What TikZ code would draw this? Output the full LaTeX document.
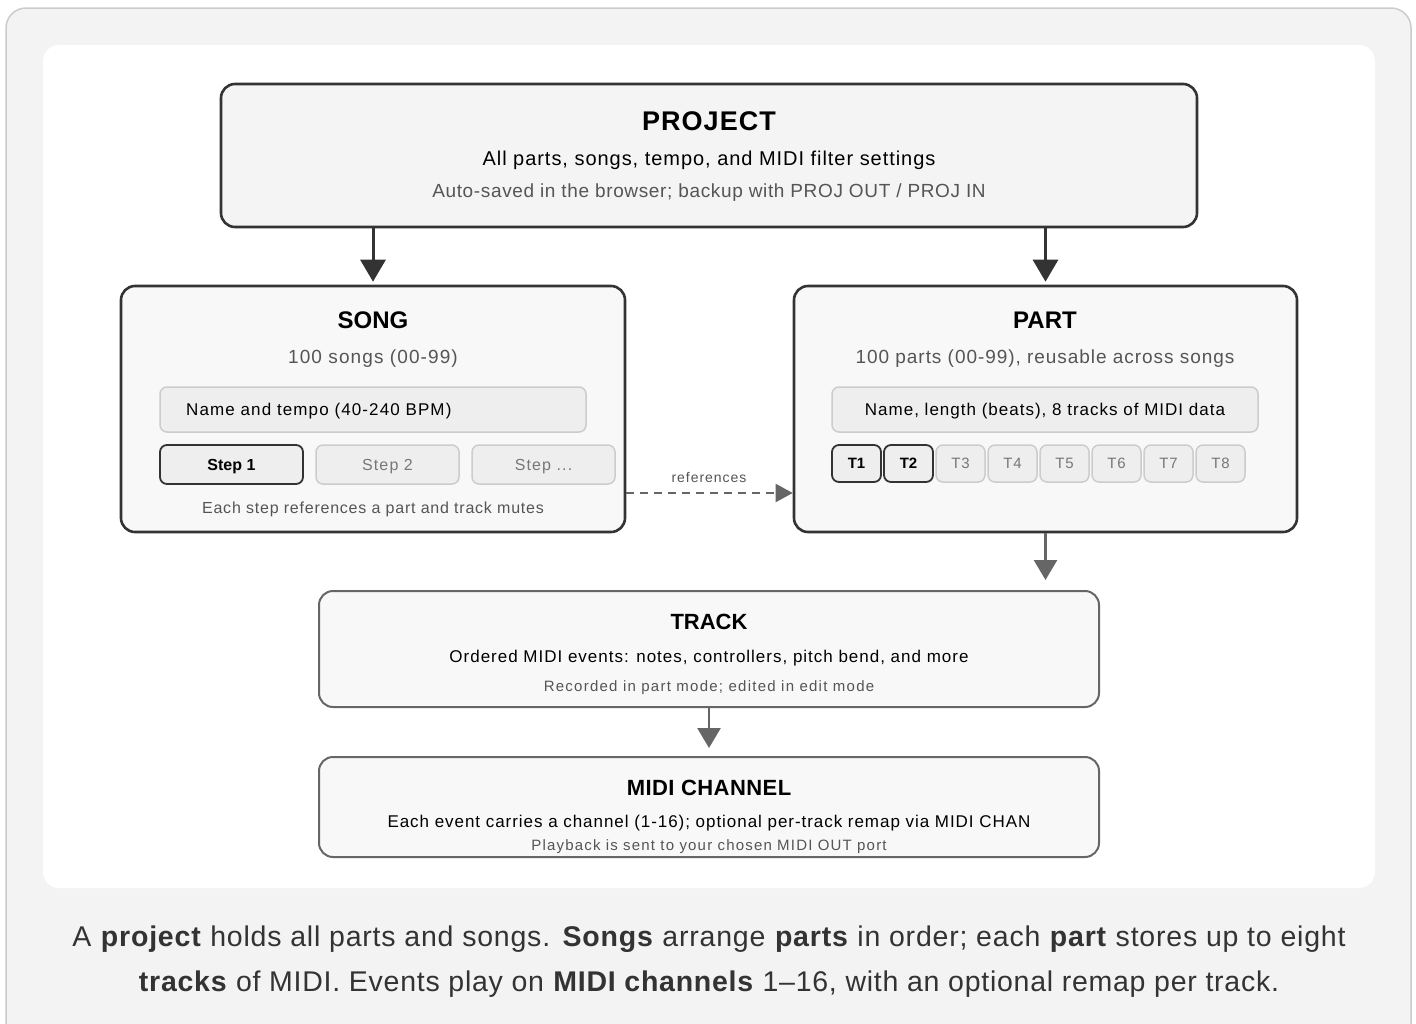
\documentclass[tikz,border=0pt]{standalone}
\usepackage{fontspec}
\setmainfont{Liberation Sans}
\usetikzlibrary{arrows.meta}
\definecolor{framebg}{HTML}{F3F3F3}
\definecolor{frameline}{HTML}{CCCCCC}
\definecolor{boxbg}{HTML}{F4F4F4}
\definecolor{boxbg2}{HTML}{F8F8F8}
\definecolor{dark}{HTML}{333333}
\definecolor{midgray}{HTML}{666666}
\definecolor{subtext}{HTML}{555555}
\definecolor{chipbg}{HTML}{EEEEEE}
\definecolor{chipline}{HTML}{CCCCCC}
\definecolor{chiptext}{HTML}{777777}
\newcommand{\fs}[2]{\fontsize{#1}{#1}\selectfont\addfontfeatures{LetterSpace=#2}}
\begin{document}
\begin{tikzpicture}[x=1pt,y=-1pt,
  bigbox/.style={draw=dark, line width=2.6pt, rounded corners=14pt, fill=boxbg2, inner sep=0pt},
  lowbox/.style={draw=midgray, line width=2pt, rounded corners=14pt, fill=boxbg2, inner sep=0pt},
  chip/.style={draw=chipline, line width=1.5pt, rounded corners=7pt, fill=chipbg, inner sep=0pt, text depth=0pt},
  chipon/.style={draw=dark, line width=1.8pt, rounded corners=7pt, fill=chipbg, inner sep=0pt, text depth=0pt},
  txt/.style={inner sep=0pt, anchor=center},
  darrow/.style={draw=dark, line width=3pt, -{Triangle[length=22pt,width=25pt]}, shorten >=3pt},
  garrow/.style={draw=midgray, line width=2.6pt, -{Triangle[length=20pt,width=23pt]}, shorten >=10pt},
]
\useasboundingbox (0,0) rectangle (1416,1023);
% frame
\fill[white] (0,0) rectangle (1416,1023);
\draw[fill=framebg, draw=frameline, line width=1.5pt, rounded corners=20pt] (6,8) rectangle (1411,1060);
\fill[white, rounded corners=16pt] (43,45) rectangle (1375,888);

% PROJECT
\node[bigbox, fill=boxbg, minimum width=976pt, minimum height=143pt] (proj) at (709,155.5) {};
\node[txt] (projT) at (709,121) {\fs{27}{4}\bfseries PROJECT};
\node[txt] (projA) at (709,160) {\fs{20}{4.8}All parts, songs, tempo, and MIDI filter settings};
\node[txt, text=subtext] (projB) at (709,193) {\fs{19}{3.4}Auto-saved in the browser; backup with PROJ OUT / PROJ IN};

% SONG
\node[bigbox, minimum width=504pt, minimum height=246pt] (song) at (373,409) {};
\node[txt] (songT) at (373,320) {\fs{24}{0}\bfseries SONG};
\node[txt, text=subtext] (songA) at (373,359) {\fs{19}{5.8}100 songs (00-99)};
\node[chip, minimum width=426pt, minimum height=45pt] (songN) at (373,409.5) {};
\node[txt, anchor=west] (songNt) at (186,411.5) {\fs{17}{6.5}Name and tempo (40-240 BPM)};
\node[chipon, minimum width=143pt, minimum height=39pt] (step1) at (231.5,464.5) {\fs{16}{0}\bfseries Step 1};
\node[chip, minimum width=143pt, minimum height=39pt, text=chiptext] (step2) at (387.5,464.5) {\fs{16}{7}Step 2};
\node[chip, minimum width=143pt, minimum height=39pt, text=chiptext] (step3) at (543.5,464.5) {\fs{16}{7}Step ...};
\node[txt, text=subtext] (songB) at (373,509) {\fs{16}{4.8}Each step references a part and track mutes};

% PART
\node[bigbox, minimum width=503pt, minimum height=246pt] (part) at (1045.5,409) {};
\node[txt] (partT) at (1045,320) {\fs{24}{0}\bfseries PART};
\node[txt, text=subtext] (partA) at (1045,359) {\fs{19}{5}100 parts (00-99), reusable across songs};
\node[chip, minimum width=426pt, minimum height=45pt] (partN) at (1045,409.5) {\fs{17}{5.9}Name, length (beats), 8 tracks of MIDI data};
\node[chipon, minimum width=49pt, minimum height=37pt] (t1) at (856.5,463.5) {\fs{15}{0}\bfseries T1};
\node[chipon, minimum width=49pt, minimum height=37pt] (t2) at (908.5,463.5) {\fs{15}{0}\bfseries T2};
\node[chip, minimum width=49pt, minimum height=37pt, text=chiptext] (t3) at (960.5,463.5) {\fs{15}{5}T3};
\node[chip, minimum width=49pt, minimum height=37pt, text=chiptext] (t4) at (1012.5,463.5) {\fs{15}{5}T4};
\node[chip, minimum width=49pt, minimum height=37pt, text=chiptext] (t5) at (1064.5,463.5) {\fs{15}{5}T5};
\node[chip, minimum width=49pt, minimum height=37pt, text=chiptext] (t6) at (1116.5,463.5) {\fs{15}{5}T6};
\node[chip, minimum width=49pt, minimum height=37pt, text=chiptext] (t7) at (1168.5,463.5) {\fs{15}{5}T7};
\node[chip, minimum width=49pt, minimum height=37pt, text=chiptext] (t8) at (1220.5,463.5) {\fs{15}{5}T8};

% TRACK
\node[lowbox, minimum width=780pt, minimum height=116pt] (track) at (709,649) {};
\node[txt] (trackT) at (709,622) {\fs{22}{0}\bfseries TRACK};
\node[txt] (trackA) at (709,658) {\fs{17}{5.8}Ordered MIDI events: notes, controllers, pitch bend, and more};
\node[txt, text=subtext] (trackB) at (709,688) {\fs{15}{8.4}Recorded in part mode; edited in edit mode};

% MIDI CHANNEL
\node[lowbox, minimum width=780pt, minimum height=100pt] (midi) at (709,807) {};
\node[txt] (midiT) at (709,788) {\fs{22}{2}\bfseries MIDI CHANNEL};
\node[txt] (midiA) at (709,823) {\fs{17}{5.6}Each event carries a channel (1-16); optional per-track remap via MIDI CHAN};
\node[txt, text=subtext] (midiB) at (709,847) {\fs{15}{7.9}Playback is sent to your chosen MIDI OUT port};

% connectors
\draw[darrow] (proj.south -| song.north) -- (song.north);
\draw[darrow] (proj.south -| part.north) -- (part.north);
\coordinate (refL) at (song.east |- 0,493);
\coordinate (refR) at (part.west |- 0,493);
\draw[draw=midgray, line width=2pt, dash pattern=on 8pt off 6pt, -{Triangle[length=17pt,width=18pt]}] (refL) -- (refR);
\node[txt, text=subtext] (reflab) at (709,477) {\fs{14}{7}references};
\draw[garrow] (part.south) -- (part.south |- track.north);
\draw[garrow, shorten >=8pt] (track.south) -- (midi.north);

% caption
\node[txt, text=dark] (cap1) at (709,939) {\fs{28.5}{2.8}A \textbf{project} holds all parts and songs. \textbf{Songs} arrange \textbf{parts} in order; each \textbf{part} stores up to eight};
\node[txt, text=dark] (cap2) at (709,984) {\fs{28.5}{2.6}\textbf{tracks} of MIDI. Events play on \textbf{MIDI channels} 1–16, with an optional remap per track.};
\end{tikzpicture}
\end{document}
